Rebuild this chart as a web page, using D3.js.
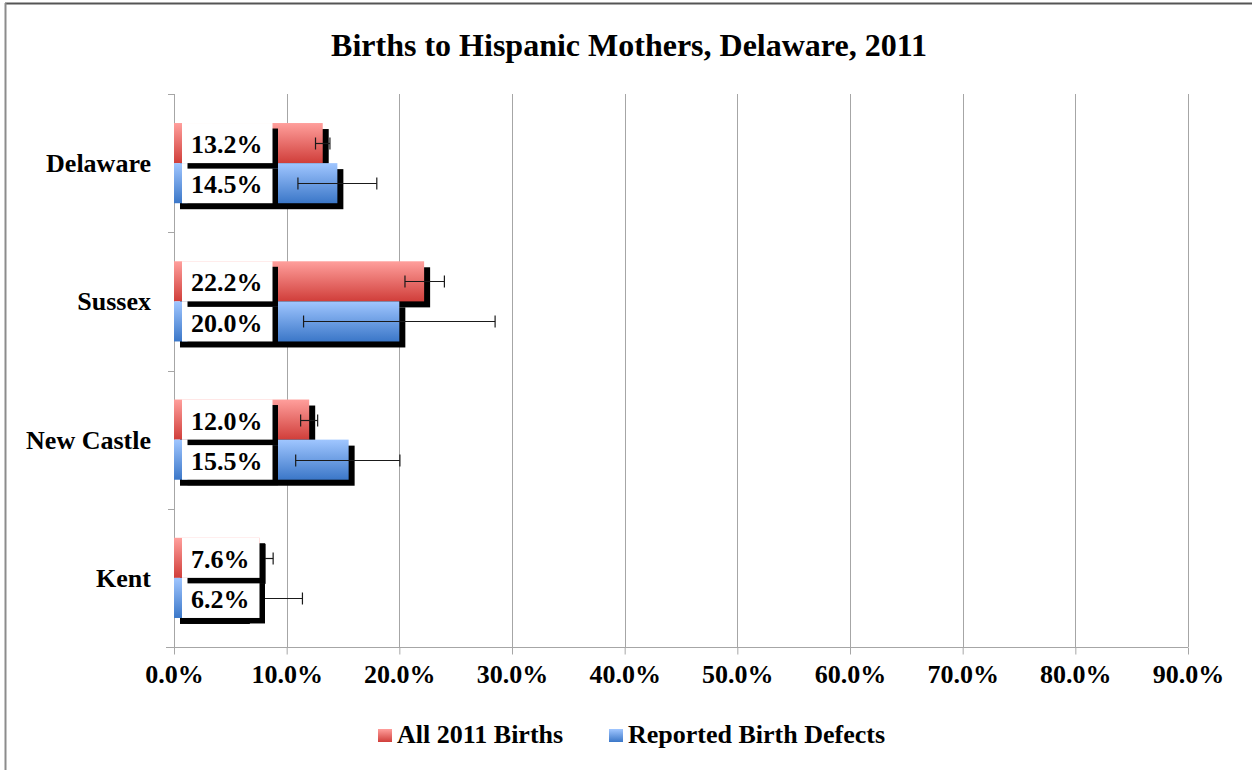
<!DOCTYPE html>
<html>
<head>
<meta charset="utf-8">
<script src="https://cdn.jsdelivr.net/npm/d3@7"></script>
<style>
	body { margin: 0; background: #fff; }
	svg text { font-family: "Liberation Serif", "Times New Roman", serif; font-weight: bold; fill: #000; }
</style>
</head>
<body>
<div id="chart"></div>
<script>
// data
const categories = ["Delaware", "Sussex", "New Castle", "Kent"];
const seriesNames = ["All 2011 Births", "Reported Birth Defects"];
const allBirths = [0.132, 0.222, 0.120, 0.076];
const birthDefects = [0.145, 0.200, 0.155, 0.062];
const allBirthsErrLow = [0.1256, 0.205, 0.1124, 0.064];
const allBirthsErrHigh = [0.1384, 0.240, 0.1275, 0.088];
const defectsErrLow = [0.110, 0.115, 0.108, 0.010];
const defectsErrHigh = [0.180, 0.285, 0.2005, 0.114];
const xTicks = [0, 0.1, 0.2, 0.3, 0.4, 0.5, 0.6, 0.7, 0.8, 0.9];

const width = 1252, height = 770;
const svg = d3.select("#chart").append("svg")
	.attr("width", width)
	.attr("height", height);

const defs = svg.append("defs");
const gradients = [
	{id: "gradRed", top: "#ff9f9c", bottom: "#d03e3a"},
	{id: "gradBlue", top: "#a0c6ff", bottom: "#3b77c8"}
];
gradients.forEach(g => {
	let lg = defs.append("linearGradient")
		.attr("id", g.id)
		.attr("x1", 0).attr("y1", 0).attr("x2", 0).attr("y2", 1);
	lg.append("stop").attr("offset", "0%").attr("stop-color", g.top);
	lg.append("stop").attr("offset", "100%").attr("stop-color", g.bottom);
});

// frame of the chart object (only top and left edges show)
svg.append("line")
	.attr("x1", 5).attr("x2", width).attr("y1", 3.5).attr("y2", 3.5)
	.attr("stroke", "#555").attr("stroke-width", 2);
svg.append("line")
	.attr("x1", 5.5).attr("x2", 5.5).attr("y1", 3).attr("y2", height)
	.attr("stroke", "#8c8c8c").attr("stroke-width", 2);

svg.append("text")
	.attr("x", 629).attr("y", 56)
	.attr("text-anchor", "middle")
	.style("font-size", "32px")
	.text("Births to Hispanic Mothers, Delaware, 2011");

const x = d3.scaleLinear().domain([0, 0.9]).range([174, 1188]);
const y = d3.scaleBand().domain(categories).range([94, 647])
	.paddingInner(0.42).paddingOuter(0.21);
const ySeries = d3.scaleBand().domain([0, 1]).range([0, y.bandwidth()]);
const step = y.step();
const plotTop = 94, plotBottom = 647;

// gridlines
svg.append("g").selectAll("line")
	.data(xTicks.slice(1)).enter()
	.append("line")
	.attr("x1", d => Math.round(x(d)) + 0.5)
	.attr("x2", d => Math.round(x(d)) + 0.5)
	.attr("y1", plotTop).attr("y2", plotBottom)
	.attr("stroke", "#a6a6a6");

// x axis
const xAxis = svg.append("g")
	.attr("transform", "translate(0," + (plotBottom + 0.5) + ")")
	.call(d3.axisBottom(x).tickValues(xTicks).tickFormat(d3.format(".1%")).tickSize(7).tickPadding(10));
xAxis.select(".domain").attr("stroke", "#a6a6a6").attr("d", "M166,0H" + x(0.9));
xAxis.selectAll(".tick line").attr("stroke", "#a6a6a6");
xAxis.selectAll("text").style("font-size", "26px").attr("font-family", null);

// y axis: line, boundary ticks, category names
svg.append("line")
	.attr("x1", x(0) + 0.5).attr("x2", x(0) + 0.5)
	.attr("y1", plotTop).attr("y2", plotBottom)
	.attr("stroke", "#a6a6a6");
svg.append("g").selectAll("line")
	.data(d3.range(categories.length + 1)).enter()
	.append("line")
	.attr("x1", 168).attr("x2", x(0))
	.attr("y1", i => Math.round(plotTop + i * step) + 0.5)
	.attr("y2", i => Math.round(plotTop + i * step) + 0.5)
	.attr("stroke", "#a6a6a6");
svg.append("g").selectAll("text")
	.data(categories).enter()
	.append("text")
	.attr("x", 151)
	.attr("y", d => y(d) + y.bandwidth() / 2)
	.attr("dy", "0.35em")
	.attr("text-anchor", "end")
	.style("font-size", "26px")
	.text(d => d);

const rows = categories.map((c, i) => [
	{cat: c, s: 0, v: allBirths[i], lo: allBirthsErrLow[i], hi: allBirthsErrHigh[i], fill: "url(#gradRed)"},
	{cat: c, s: 1, v: birthDefects[i], lo: defectsErrLow[i], hi: defectsErrHigh[i], fill: "url(#gradBlue)"}
]);
const flat = rows.flat();
const shadow = 6;

// bars with hard shadows
const barLayer = svg.append("g");
flat.forEach(d => {
	let by = y(d.cat) + ySeries(d.s);
	barLayer.append("rect")
		.attr("x", x(0) + shadow).attr("y", by + shadow)
		.attr("width", x(d.v) - x(0)).attr("height", ySeries.bandwidth())
		.attr("fill", "#000");
	barLayer.append("rect")
		.attr("x", x(0)).attr("y", by)
		.attr("width", x(d.v) - x(0)).attr("height", ySeries.bandwidth())
		.attr("fill", d.fill);
});

// error bars
const errLayer = svg.append("g").attr("stroke", "#1a1a1a").attr("stroke-width", 1.2);
flat.forEach(d => {
	let cy = Math.round(y(d.cat) + ySeries(d.s) + ySeries.bandwidth() / 2) + 0.5;
	errLayer.append("line").attr("x1", x(d.lo)).attr("x2", x(d.hi)).attr("y1", cy).attr("y2", cy);
	errLayer.append("line").attr("x1", x(d.lo)).attr("x2", x(d.lo)).attr("y1", cy - 6).attr("y2", cy + 6);
	errLayer.append("line").attr("x1", x(d.hi)).attr("x2", x(d.hi)).attr("y1", cy - 6).attr("y2", cy + 6);
});

// data labels: white boxes with shadows, second series drawn first
const labelLayer = svg.append("g");
const labelOrder = flat.slice().sort((a, b) => b.s - a.s);
labelOrder.forEach(d => {
	let by = y(d.cat) + ySeries(d.s);
	let g = labelLayer.append("g");
	let sh = g.append("rect").attr("fill", "#000");
	let box = g.append("rect").attr("fill", "#fff");
	let t = g.append("text")
		.attr("x", 191)
		.attr("y", by + ySeries.bandwidth() / 2 + 1)
		.attr("dy", "0.35em")
		.style("font-size", "26px")
		.text(d3.format(".1%")(d.v));
	let w = t.node().getComputedTextLength() + 19;
	box.attr("x", 182).attr("y", by).attr("width", w).attr("height", ySeries.bandwidth());
	sh.attr("x", 182 + 5.5).attr("y", by + 5.5).attr("width", w).attr("height", ySeries.bandwidth());
});

// legend
const legend = svg.append("g");
const legendX = [378, 609];
const legendFills = ["url(#gradRed)", "url(#gradBlue)"];
seriesNames.forEach((name, i) => {
	legend.append("rect")
		.attr("x", legendX[i]).attr("y", 729)
		.attr("width", 14).attr("height", 13)
		.attr("fill", legendFills[i]);
	legend.append("text")
		.attr("x", legendX[i] + 19).attr("y", 743)
		.style("font-size", "26px")
		.text(name);
});
</script>
</body>
</html>
